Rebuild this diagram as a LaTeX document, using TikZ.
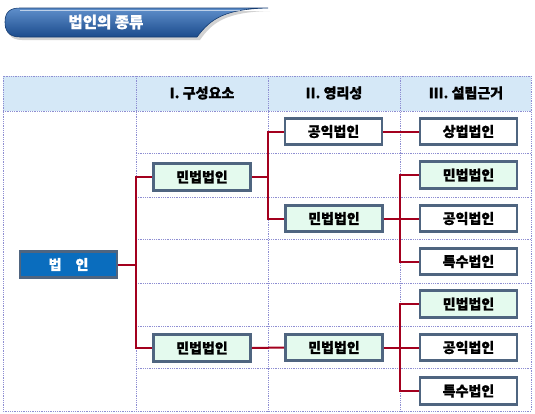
\documentclass[tikz,border=0pt]{standalone}
\usepackage{fontspec}
\newfontfamily\kr{Noto Sans CJK KR}[BoldFeatures={FakeBold=1}]
\usetikzlibrary{arrows.meta,calc,positioning,shadings}
\definecolor{frame}{HTML}{4F6580}
\definecolor{mint}{HTML}{E4FAEE}
\definecolor{rootblue}{HTML}{0A6DBE}
\definecolor{linkred}{HTML}{A3001E}
\definecolor{headfill}{HTML}{D5E8F7}
\definecolor{gridline}{HTML}{8E8ED2}
\definecolor{barlight}{HTML}{5F8FCB}
\definecolor{bardark}{HTML}{1B4B8C}
\tikzset{
  every node/.style={font=\kr\bfseries\fontsize{14}{16}\selectfont},
  grid/.style={draw=gridline,densely dotted,line width=.8pt},
  kind/.style={draw=frame,line width=2.8pt,fill=white,minimum width=97pt,minimum height=26.5pt,inner sep=0pt},
  civil/.style={kind,fill=mint},
  rootbox/.style={kind,fill=rootblue,text=white},
  link/.style={draw=linkred,line width=2pt},
  colhead/.style={inner sep=0pt}}
\begin{document}
\begin{tikzpicture}[x=1pt,y=-1pt]
\useasboundingbox (0,0) rectangle (535,413);
% title bar
\fill[black!35,opacity=.5] (22,11) -- (270,11) .. controls (228,12) and (213,21) .. (200,40) -- (22,40) .. controls (10,40) and (7,33) .. (7,25) .. controls (7,15) and (12,11) .. (22,11) -- cycle;
\shade[top color=barlight,bottom color=bardark,draw=bardark!80!black,line width=.6pt]
  (20,8) -- (268,8) .. controls (226,9) and (211,18) .. (197,37) -- (20,37) .. controls (8,37) and (5,30) .. (5,22) .. controls (5,12) and (10,8) .. (20,8) -- cycle;
\draw[white,opacity=.6,line width=.6pt] (20,10) -- (240,10);
\node[text=white,font=\kr\bfseries\fontsize{15.5}{17}\selectfont] (title) at (106,22) {법인의 종류};
% table
\fill[headfill] (3,76) rectangle (531,111);
\draw[grid] (3,76) rectangle (531,411);
\draw[grid] (3,111) -- (531,111);
\foreach \x in {136,268,400}{\draw[grid] (\x,76) -- (\x,411);}
\foreach \y in {153,197,239,283,326,368}{\draw[grid] (136,\y) -- (531,\y);}
\node[colhead] (h1) at (202,93) {I. 구성요소};
\node[colhead] (h2) at (334,93) {II. 영리성};
\node[colhead] (h3) at (466,93) {III. 설립근거};
% boxes
\node[rootbox] (root) at (68.5,264.5) {법\hspace{1em}인};
\node[civil] (c1a) at (202,177) {민법법인};
\node[civil] (c1b) at (202,348) {민법법인};
\node[kind] (c2a) at (333.5,131.5) {공익법인};
\node[civil] (c2b) at (334,218.5) {민법법인};
\node[civil] (c2c) at (334,347.5) {민법법인};
\node[kind] (c3a) at (468.5,131.5) {상법법인};
\node[civil] (c3b) at (468.5,175) {민법법인};
\node[kind] (c3c) at (468.5,218.5) {공익법인};
\node[kind] (c3d) at (468.5,261.5) {특수법인};
\node[civil] (c3e) at (468.5,304) {민법법인};
\node[kind] (c3f) at (468.5,347.5) {공익법인};
\node[kind] (c3g) at (468.5,391) {특수법인};
% connectors
\coordinate (bus1) at (136,0);
\coordinate (bus2) at (268,0);
\coordinate (bus3) at (400,0);
\draw[link] (root.east) -- (root.east -| bus1) |- (c1a.west);
\draw[link] (root.east -| bus1) |- (c1b.west);
\draw[link] (c1a.east) -- (c1a.east -| bus2) |- (c2a.west);
\draw[link] (c1a.east -| bus2) |- (c2b.west);
\draw[link] (c1b.east) -- (c2c.west);
\draw[link] (c2a.east) -- (c3a.west);
\foreach \t in {c3b,c3c,c3d}{\draw[link] (c2b.east) -- (c2b.east -| bus3) |- (\t.west);}
\foreach \t in {c3e,c3f,c3g}{\draw[link] (c2c.east) -- (c2c.east -| bus3) |- (\t.west);}
\end{tikzpicture}
\end{document}
